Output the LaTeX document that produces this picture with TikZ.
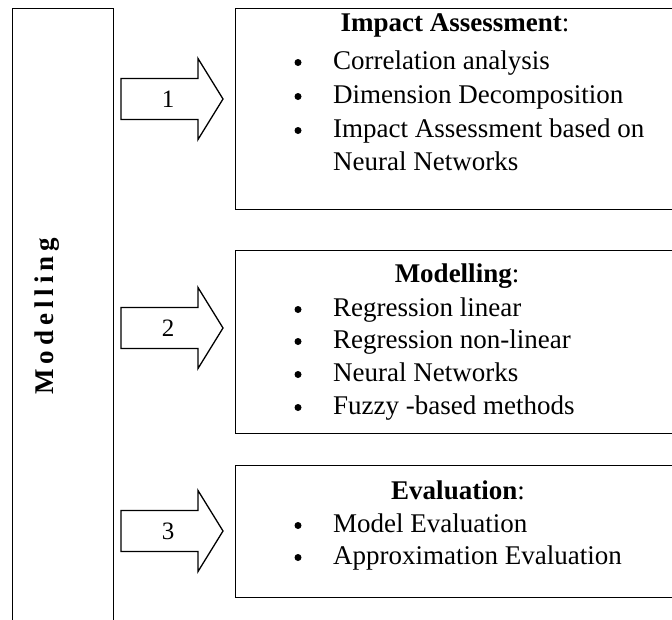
\documentclass[tikz,border=0pt]{standalone}
\usepackage{fontspec}
\setmainfont{Liberation Serif}
\begin{document}
\begin{tikzpicture}[x=1pt,y=-1pt,
  frame/.style={draw, line width=1.3pt, inner sep=0pt},
  blockarrow/.style={draw, line width=1.3pt, line join=miter},
  txt/.style={font=\fontsize{27}{33}\selectfont, inner sep=0pt, anchor=base west},
  ttl/.style={font=\fontsize{27}{33}\selectfont, inner sep=0pt, anchor=base},
  bul/.style={circle, fill, inner sep=0pt, minimum size=7pt},
  num/.style={font=\fontsize{25}{30}\selectfont, inner sep=0pt},
  vert/.style={font=\fontsize{27}{33}\selectfont\bfseries, inner sep=0pt, rotate=90, anchor=base}]
\useasboundingbox (0,0) rectangle (672,619);
\clip (0,0) rectangle (672,619);
% left frame
\node[frame, anchor=north west, minimum width=101pt, minimum height=640pt] (mod) at (12,8) {};
\node[vert] (vt) at (53,316) {M\kern5pt o\kern5pt d\kern5pt e\kern5pt l\kern5pt l\kern5pt i\kern5pt n\kern5pt g};
% right boxes (right side runs off the picture)
\node[frame, anchor=north west, minimum width=470pt, minimum height=201pt] (b1) at (235,8) {};
\node[frame, anchor=north west, minimum width=470pt, minimum height=183pt] (b2) at (235,250) {};
\node[frame, anchor=north west, minimum width=470pt, minimum height=132pt] (b3) at (235,465) {};
% block arrows
\foreach \c/\n in {99/1, 328/2, 531/3}{
  \draw[blockarrow] (121,\c-20.5) -- (198,\c-20.5) -- (198,\c-40.5) -- (223,\c) -- (198,\c+40.5) -- (198,\c+20.5) -- (121,\c+20.5) -- cycle;
  \node[num] (n\n) at (168,\c) {\n};
}
% box 1
\node[ttl] (t1) at (455,31.5) {\textbf{Impact Assessment}:};
\node[bul] (b1a) at (298,62.5) {}; \node[txt] (l1a) at (333,69) {Correlation analysis};
\node[bul] (b1b) at (298,96.5) {}; \node[txt] (l1b) at (333,103) {Dimension Decomposition};
\node[bul] (b1c) at (298,130.5) {}; \node[txt] (l1c) at (333,137) {Impact Assessment based on};
\node[txt] (l1d) at (333,170.5) {Neural Networks};
% box 2
\node[ttl] (t2) at (457,282) {\textbf{Modelling}:};
\node[bul] (b2a) at (298,309.5) {}; \node[txt] (l2a) at (333,316) {Regression linear};
\node[bul] (b2b) at (298,341.5) {}; \node[txt] (l2b) at (333,348) {Regression non-linear};
\node[bul] (b2c) at (298,374.5) {}; \node[txt] (l2c) at (333,381) {Neural Networks};
\node[bul] (b2d) at (298,407.5) {}; \node[txt] (l2d) at (333,414) {Fuzzy -based methods};
% box 3
\node[ttl] (t3) at (458,499) {\textbf{Evaluation}:};
\node[bul] (b3a) at (298,525.5) {}; \node[txt] (l3a) at (333,532) {Model Evaluation};
\node[bul] (b3b) at (298,557.5) {}; \node[txt] (l3b) at (333,564) {Approximation Evaluation};
\end{tikzpicture}
\end{document}
